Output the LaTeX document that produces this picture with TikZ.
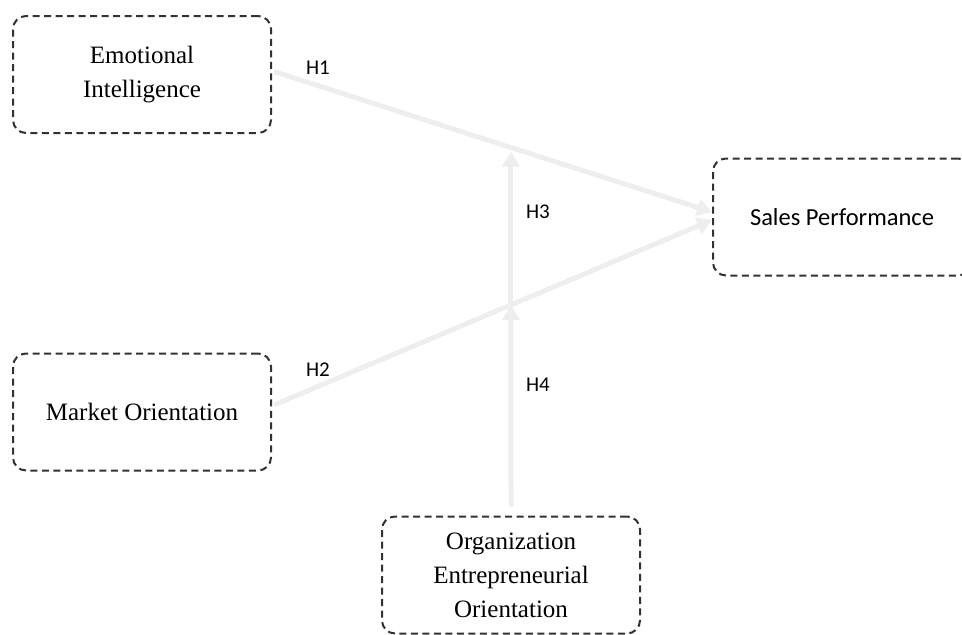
\documentclass[tikz,border=0pt]{standalone}
\usepackage{fontspec}
\setmainfont{Liberation Serif}
\newfontfamily\labelfont{Carlito}
\usetikzlibrary{arrows.meta,calc}
\definecolor{arrowgray}{RGB}{238,238,238}
\definecolor{boxline}{RGB}{50,50,50}
\begin{document}
\begin{tikzpicture}[x=1pt,y=-1pt,
  varbox/.style={draw=boxline,line width=2pt,dash pattern=on 7pt off 4.5pt,rounded corners=13pt,
    minimum width=258pt,minimum height=117pt,inner sep=0pt,align=center,
    font=\fontsize{25}{34}\selectfont},
  path/.style={draw=arrowgray,line width=5pt,-{Triangle[width=17pt,length=15pt]}},
  hlabel/.style={font=\labelfont\fontsize{21}{24}\selectfont,inner sep=0pt}]
\useasboundingbox (0,0) rectangle (962,635);
\node[varbox] (EI) at (142,74.5) {Emotional\\Intelligence};
\node[varbox] (MO) at (142,412) {Market Orientation};
\node[varbox,font=\labelfont\fontsize{24.5}{30}\selectfont] (SP) at (842,217) {Sales Performance};
\node[varbox] (OEO) at (511,575) {Organization\\Entrepreneurial\\Orientation};
\coordinate (h1s) at ($(EI.east)+(2,-3)$);
\coordinate (h1e) at ($(SP.west)+(0,-5)$);
\coordinate (h2s) at ($(MO.east)+(2,-7)$);
\coordinate (h2e) at ($(SP.west)+(0,3)$);
\coordinate (m1) at ($(h1s)!0.541!(h1e)$);
\coordinate (m2) at ($(h2s)!0.541!(h2e)$);
\draw[path] (h1s) -- (h1e);
\draw[path] (h2s) -- (h2e);
\draw[path] ($(OEO.north)+(0,-9)$) -- (m2);
\draw[path] (m2) -- ($(m1)+(0,4)$);
\node[hlabel] (H1) at (318,68) {H1};
\node[hlabel] (H2) at (318,370) {H2};
\node[hlabel] (H3) at (538,212) {H3};
\node[hlabel] (H4) at (538,385) {H4};
\end{tikzpicture}
\end{document}
